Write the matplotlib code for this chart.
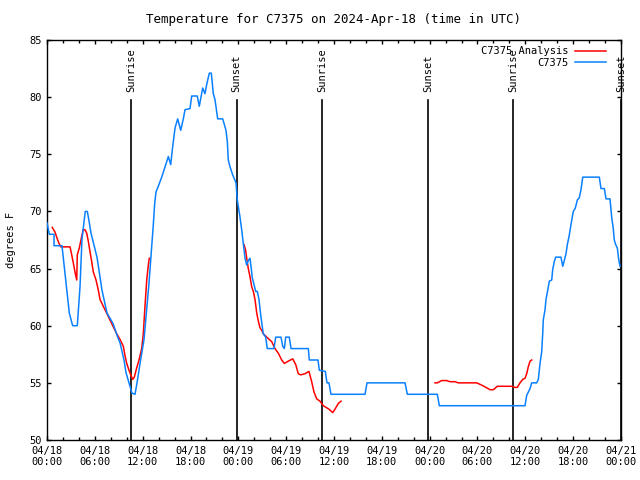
import numpy as np
import matplotlib
matplotlib.use('Agg')
import matplotlib.pyplot as plt
from matplotlib.ticker import MultipleLocator

# hours since 2024-04-18 00:00 UTC
obs_hours = [0.00, 0.29, 0.88, 0.88, 1.88, 2.80, 3.22, 3.80, 4.14, 4.39, 4.60, 4.80, 5.06,
             5.31, 5.52, 6.27, 6.90, 7.53, 8.28, 8.87, 9.16, 9.66, 9.91, 10.29, 10.66, 11.04,
             11.29, 11.67, 12.17, 12.54, 12.79, 13.08, 13.30, 13.51, 13.67, 13.96, 14.39,
             14.80, 15.22, 15.52, 15.72, 16.06, 16.39, 16.77, 17.10, 17.31, 17.94, 18.15,
             18.85, 19.10, 19.53, 19.82, 20.03, 20.36, 20.61, 20.86, 21.07, 21.41, 22.04,
             22.45, 22.62, 22.74, 22.96, 23.29, 23.71, 23.87, 24.21, 24.42, 24.62, 24.84,
             25.05, 25.25, 25.46, 25.59, 25.75, 25.97, 26.18, 26.38, 26.59, 26.81, 27.01,
             27.13, 27.43, 27.63, 28.47, 28.69, 29.35, 29.57, 29.77, 29.94, 30.39, 30.61,
             32.78, 32.90, 33.99, 34.16, 34.91, 35.12, 35.37, 35.62, 39.89, 40.14, 44.91,
             45.20, 48.96, 49.21, 59.96, 60.17, 60.59, 60.80, 61.43, 61.63, 61.84, 62.05,
             62.18, 62.25, 62.47, 62.59, 62.81, 63.01, 63.31, 63.43, 63.63, 63.81, 64.47,
             64.69, 64.85, 65.10, 65.27, 65.48, 65.69, 65.86, 66.02, 66.27, 66.52, 66.77,
             66.98, 67.20, 69.28, 69.49, 69.91, 70.12, 70.62, 70.83, 71.03, 71.16, 71.33,
             71.54, 71.71, 71.88]
obs_temp = [69.0, 68.0, 68.0, 67.0, 67.0, 61.1, 60.0, 60.0, 63.4, 67.6, 68.8, 70.0, 70.0,
            69.0, 68.1, 66.0, 63.1, 61.1, 60.2, 59.0, 58.5, 57.0, 55.9, 55.0, 54.1, 54.0,
            55.0, 56.7, 58.8, 61.7, 63.7, 66.4, 68.5, 70.7, 71.7, 72.2, 73.0,
            73.9, 74.8, 74.1, 75.4, 77.3, 78.1, 77.1, 78.1, 78.9, 79.0, 80.1,
            80.1, 79.2, 80.8, 80.3, 81.1, 82.1, 82.1, 80.3, 79.8, 78.1, 78.1,
            77.1, 76.1, 74.5, 73.9, 73.2, 72.5, 71.0, 69.5, 68.4, 67.2, 65.9,
            65.3, 65.7, 65.9, 65.2, 64.2, 63.6, 63.0, 63.0, 62.3, 60.9, 59.9,
            59.3, 59.0, 58.0, 58.0, 59.0, 59.0, 58.2, 58.0, 59.0, 59.0, 58.0,
            58.0, 57.0, 57.0, 56.1, 56.0, 55.0, 55.0, 54.0, 54.0, 55.0, 55.0,
            54.0, 54.0, 53.0, 53.0, 53.9, 54.5, 55.0, 55.0, 55.3, 56.7, 57.7,
            59.3, 60.5, 61.4, 62.3, 63.1, 63.9, 64.0, 64.9, 65.6, 66.0, 66.0,
            65.2, 65.6, 66.3, 67.1, 67.8, 68.7, 69.4, 70.0, 70.3, 71.0, 71.2,
            71.9, 73.0, 73.0, 72.0, 72.0, 71.1, 71.1, 69.5, 68.5, 67.5, 67.1,
            66.8, 65.8, 65.2]

# analysis, NaN = gap
ana_hours = [0.66, 1.00, 1.29, 1.51, 1.72, 2.89, 3.10, 3.30, 3.51, 3.73, 3.80, 4.05, 4.35,
             4.55, 4.77, 4.98, 5.18, 5.39, 5.61, 5.81, 6.15, 6.44, 6.65, 7.06, 7.49, 7.90,
             8.32, 8.74, 9.16, 9.57, 9.78, 10.00, 10.29, 10.50, 10.75, 10.95, 11.25, 11.54,
             11.88, 12.08, 12.29, 12.51, 12.71, 12.83, np.nan,
             24.71, 24.92, 25.05, 25.25, 25.46, 25.68, 25.88, 26.09, 26.31, 26.51, 26.72,
             26.93, 27.13, 27.56, 28.19, 28.60, 29.01, 29.44, 29.77, 30.27, 30.82, 31.20,
             31.52, 31.82, 32.36, 32.86, 33.20, 33.49, 33.83, 34.24, 34.66, 35.37, 35.84,
             36.13, 36.54, 36.88, np.nan,
             48.67, 48.96, 49.51, 50.14, 50.55, 51.18, 51.59, 53.90, 54.53, 55.07, 55.57,
             55.99, 56.48, 58.29, 58.70, 58.99, 59.33, 59.67, 59.96, 60.17, 60.37, 60.59,
             60.80]
ana_temp = [68.6, 68.2, 67.6, 67.2, 66.9, 66.9, 66.2, 65.5, 64.7, 64.0, 66.2, 66.8, 67.8,
            68.4, 68.4, 68.1, 67.4, 66.5, 65.6, 64.7, 64.0, 63.1, 62.3, 61.7, 61.1, 60.5,
            59.9, 59.3, 58.8, 58.2, 57.4, 56.7, 56.1, 55.7, 55.3, 55.5, 56.3, 57.0,
            58.0, 59.3, 61.7, 64.0, 65.3, 65.9, np.nan,
            67.1, 66.6, 65.9, 65.0, 64.3, 63.4, 63.0, 62.3, 61.1, 60.4, 59.8,
            59.6, 59.3, 59.0, 58.6, 58.0, 57.6, 57.0, 56.7, 56.9, 57.1, 56.6,
            55.8, 55.7, 55.8, 56.0, 55.1, 54.2, 53.6, 53.4, 53.0, 52.7, 52.4,
            52.7, 53.2, 53.4, np.nan,
            55.0, 55.0, 55.2, 55.2, 55.1, 55.1, 55.0, 55.0, 54.8, 54.6, 54.4,
            54.4, 54.7, 54.7, 54.6, 54.6, 55.0, 55.3, 55.4, 55.8, 56.4, 56.9,
            57.0]

event_hours = [10.54, 23.78, 34.54, 47.83, 58.49, 71.97]
event_names = ['Sunrise', 'Sunset', 'Sunrise', 'Sunset', 'Sunrise', 'Sunset']

tick_hours = list(range(0, 73, 6))
tick_labels = ['04/18\n00:00', '04/18\n06:00', '04/18\n12:00', '04/18\n18:00',
               '04/19\n00:00', '04/19\n06:00', '04/19\n12:00', '04/19\n18:00',
               '04/20\n00:00', '04/20\n06:00', '04/20\n12:00', '04/20\n18:00',
               '04/21\n00:00']

plt.rcParams['font.family'] = ['DejaVu Sans Mono']
plt.rcParams['font.size'] = 7.5

fig = plt.figure(figsize=(6.4, 4.8), dpi=100)
ax = fig.add_axes((47/640, 40/480, 574/640, 400/480))

for h, name in zip(event_hours, event_names):
    ax.plot([h, h], [0, 0.85], color='black', lw=1.2, transform=ax.get_xaxis_transform(), zorder=1)
    ax.text(h, 0.87, name, rotation=90, ha='center', va='bottom',
            transform=ax.get_xaxis_transform())

ax.plot(ana_hours, ana_temp, color='#ff0000', lw=1.1, label='C7375 Analysis', zorder=2)
ax.plot(obs_hours, obs_temp, color='#0a80ff', lw=1.1, label='C7375', zorder=3)

ax.set_xlim(0, 72)
ax.set_ylim(50, 85)
ax.set_xticks(tick_hours)
ax.set_xticklabels(tick_labels)
ax.xaxis.set_minor_locator(MultipleLocator(2))
ax.set_yticks(range(50, 86, 5))
ax.tick_params(which='both', direction='in', top=True, right=True, width=1, pad=4)
ax.tick_params(which='major', length=3.2)
ax.tick_params(which='minor', length=2)
for s in ax.spines.values():
    s.set_linewidth(1)

ax.set_ylabel('degrees F', labelpad=9)
ax.set_title('Temperature for C7375 on 2024-Apr-18 (time in UTC)', pad=12)

ax.legend(loc='upper right', frameon=False, markerfirst=False, handlelength=3,
          borderaxespad=0.2, labelspacing=0.15, handletextpad=0.6, bbox_to_anchor=(0.985, 1.0))

fig.savefig('out.png', dpi=100)
